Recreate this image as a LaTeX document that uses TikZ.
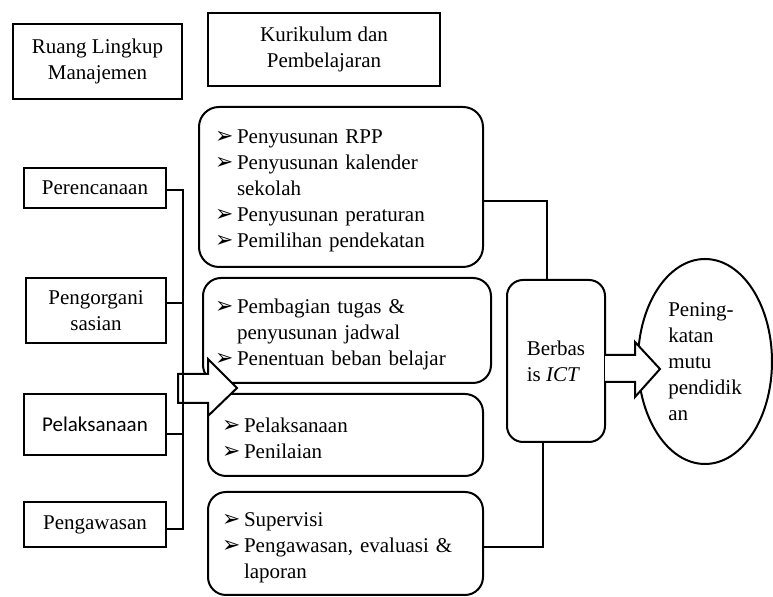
\documentclass[tikz,border=0pt]{standalone}
\usepackage{fontspec}
\usepackage{graphicx}
\setmainfont{Liberation Serif}
\newfontfamily\calibrifont{Carlito}
\newfontfamily\dingfont{DejaVu Sans}
\usepackage{tikz}
\usetikzlibrary{calc,positioning,shapes.geometric}

\newcommand\butir{\makebox[11pt][l]{\dingfont\fontsize{9.5}{13}\selectfont\scalebox{1.15}[1.2]{➢}}}
\newcommand\lanjut{\hspace*{11pt}}

\begin{document}
\begin{tikzpicture}[
  x=0.5pt, y=-0.5pt,
  font=\fontsize{10.5}{13}\selectfont,
  kotak/.style={
    rectangle, draw, line width=1pt, inner sep=0pt,
    align=center,
  },
  kotakbulat/.style={
    rectangle, draw, line width=1pt, rounded corners=9pt,
    inner ysep=0pt, align=left,
    execute at begin node={\rule{0pt}{11pt}},
  },
  garis/.style={line width=0.7pt},
  panah/.style={draw, fill=white, line width=1pt, line join=miter},
]
\useasboundingbox (0,0) rectangle (773,597);

% judul
\node[kotak, minimum width=84.5pt, minimum height=37.5pt] (ruang) at (97.5,61.5)
  {Ruang Lingkup\\Manajemen};
\node[kotak, minimum width=116pt, minimum height=36.5pt] (kuri) at (324,49.5)
  {Kurikulum dan\\Pembelajaran};

% fungsi manajemen
\node[kotak, minimum width=71pt, minimum height=20pt] (ren) at (95,188) {Perencanaan};
\node[kotak, minimum width=70pt, minimum height=32.5pt] (org) at (96,310.5) {Pengorgani\\sasian};
\node[kotak, minimum width=71pt, minimum height=30.5pt] (laks) at (95,424.5)
  {\calibrifont Pelaksanaan};
\node[kotak, minimum width=71pt, minimum height=22.5pt] (awas) at (95,524.5) {Pengawasan};

% kegiatan kurikulum
\node[kotakbulat, rounded corners=10pt, inner xsep=8pt, text width=126pt, minimum height=80pt] (k1) at (341,187) {
  \butir Penyusunan RPP\\
  \butir Penyusunan kalender\\
  \lanjut sekolah\\
  \butir Penyusunan peraturan\\
  \butir Pemilihan pendekatan
};
\node[kotakbulat, inner xsep=6pt, text width=132pt, minimum height=52.5pt] (k2) at (347,330.5) {
  \butir Pembagian tugas \&\\
  \lanjut penyusunan jadwal\\
  \butir Penentuan beban belajar
};
\node[kotakbulat, inner xsep=7pt, text width=123.5pt, minimum height=41pt] (k3) at (345.5,435) {
  \butir Pelaksanaan\\
  \butir Penilaian
};
\node[kotakbulat, inner xsep=7pt, text width=123.5pt, minimum height=51.5pt] (k4) at (345.5,543.5) {
  \butir Supervisi\\
  \butir Pengawasan, evaluasi \&\\
  \lanjut laporan
};

% ict dan hasil
\node[kotakbulat, rounded corners=8pt, inner xsep=0pt, minimum width=49pt, minimum height=81pt] (ict) at (556,361)
  {Berbas\\is \textit{ICT}};
\node[ellipse, draw, line width=1pt, inner sep=0pt, align=left,
  minimum width=67pt, minimum height=102.5pt] (mutu) at (705,361.5)
  {Pening-\\katan\\mutu\\pendidik\\an};

% panah blok
\draw[panah] (178,374) -- (208,374) -- (208,359) -- (237,388) -- (208,416) -- (208,403) -- (178,403) -- cycle;
\draw[panah] (605,355) -- (635,355) -- (635,342) -- (660,369) -- (635,397) -- (635,382) -- (605,382);

% garis penghubung
\coordinate (busatas) at (183,190);
\coordinate (busbawah) at (183,529);
\draw[garis] ($(ren.east)+(0,2)$) -- (busatas) -- (busbawah) -- ($(awas.east)+(0,4.5)$);
\draw[garis] ($(org.east)+(0,-7.5)$) -- ++(17,0);
\draw[garis] ($(laks.east)+(0,9.5)$) -- ++(17,0);
\draw[garis] ($(k1.east)+(0,14)$) -| ($(ict.north)+(-9,0)$);
\draw[garis] ($(ict.south)+(-13,0)$) |- ($(k4.east)+(0,3.5)$);

\end{tikzpicture}
\end{document}
